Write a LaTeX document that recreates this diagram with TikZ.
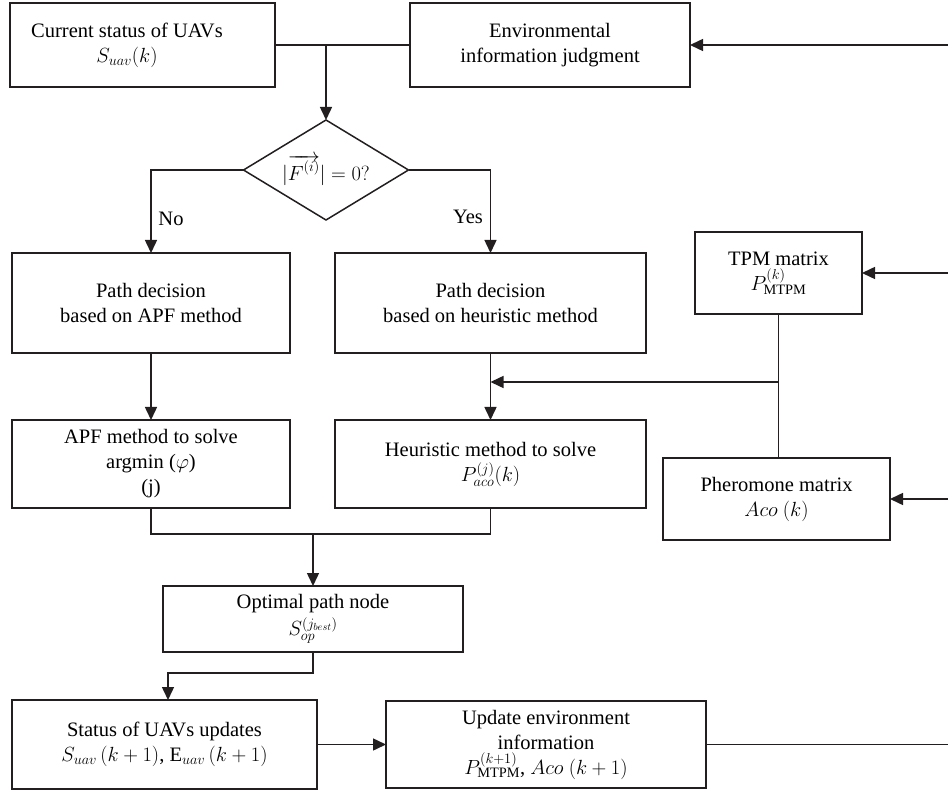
\RequirePackage{fix-cm}
\documentclass[tikz,border=0pt]{standalone}
\usepackage{fontspec}
\setmainfont{Liberation Serif}
\usetikzlibrary{arrows.meta,shapes.geometric}
\definecolor{ink}{HTML}{231F20}
\tikzset{
  box/.style={draw=ink, line width=1.5pt, inner sep=0pt, outer sep=0pt, align=center},
  lbl/.style={inner sep=0pt, align=center},
  arr/.style={-{Triangle[length=13pt,width=12pt]}},
  conn/.style={draw=ink, line width=1.5pt}
}
\begin{document}
\begin{tikzpicture}[x=1pt,y=-1pt, font=\fontsize{20.5}{25}\selectfont]
\useasboundingbox (0,0) rectangle (948,791);
% boxes
\node[box, minimum width=265pt, minimum height=84pt] (b1) at (142.5,45) {};
\node[lbl] (b1t) at (127,45) {Current status of UAVs\\$S_{uav}(k)$};
\node[box, minimum width=280pt, minimum height=84pt] (b2) at (550,45) {Environmental\\information judgment};
\node[draw=ink, line width=1.5pt, diamond, aspect=1.65, minimum width=165pt, minimum height=100pt, inner sep=0pt, outer sep=0pt] (dm) at (326,170) {$|\overrightarrow{F^{(i)}}|=0?$};
\node[box, minimum width=278pt, minimum height=100pt] (pa) at (151,303) {Path decision\\based on APF method};
\node[box, minimum width=311pt, minimum height=100pt] (ph) at (490.5,303) {Path decision\\based on heuristic method};
\node[box, minimum width=278pt, minimum height=88pt] (sa) at (151,464) {APF method to solve\\argmin ($\varphi$)\\(j)};
\node[box, minimum width=311pt, minimum height=88pt] (sh) at (490.5,464) {Heuristic method to solve\\$P^{(j)}_{aco}(k)$};
\node[box, minimum width=167pt, minimum height=82pt] (tpm) at (778.5,273) {TPM matrix\\$P^{(k)}_{\mathrm{MTPM}}$};
\node[box, minimum width=227pt, minimum height=82pt] (phe) at (776.5,499) {Pheromone matrix\\$Aco\ (k)$};
\node[box, minimum width=300pt, minimum height=66pt] (op) at (313,619) {Optimal path node\\[2pt]$S^{(j_{best})}_{op}$};
\node[box, minimum width=305pt, minimum height=89pt] (st) at (164.5,744.5) {Status of UAVs updates\\$S_{uav}\,(k+1)$, $\mathrm{E}_{uav}\,(k+1)$};
\node[box, minimum width=320pt, minimum height=87pt] (up) at (546,744.5) {Update environment\\information\\$P^{(k+1)}_{\mathrm{MTPM}}$, $Aco\ (k+1)$};
% labels
\node[lbl] (no) at (171,219) {No};
\node[lbl] (yes) at (468,217) {Yes};
% coordinates
\coordinate (j1) at (326,45);
\coordinate (br) at (778.5,382);
\coordinate (jn) at (313,534);
\coordinate (jg) at (168,673);
\coordinate (r1) at (948,45);
\coordinate (r2) at (948,273);
\coordinate (r3) at (948,499);
\coordinate (rb) at (948,744.5);
% connectors
\draw[conn] (b1.east) -- (b2.west);
\draw[conn, arr] (j1) -- (dm.north);
\draw[conn, arr] (dm.west) -| (pa.north);
\draw[conn, arr] (dm.east) -| (ph.north);
\draw[conn, arr] (pa.south) -- (sa.north);
\draw[conn, arr] (ph.south) -- (sh.north);
\draw[conn] (tpm.south) -- (tpm.south |- phe.north);
\draw[conn, arr] (br) -- (br -| sh.north);
\draw[conn] (sa.south) |- (jn) -| (sh.south);
\draw[conn, arr] (jn) -- (op.north);
\draw[conn, arr] (op.south) |- (jg) -- (jg |- st.north);
\draw[conn, arr] (st.east) -- (up.west);
\draw[conn] (up.east) -- (rb);
\draw[conn, arr] (r1) -- (b2.east);
\draw[conn, arr] (r2) -- (tpm.east);
\draw[conn, arr] (r3) -- (phe.east);
\end{tikzpicture}
\end{document}
